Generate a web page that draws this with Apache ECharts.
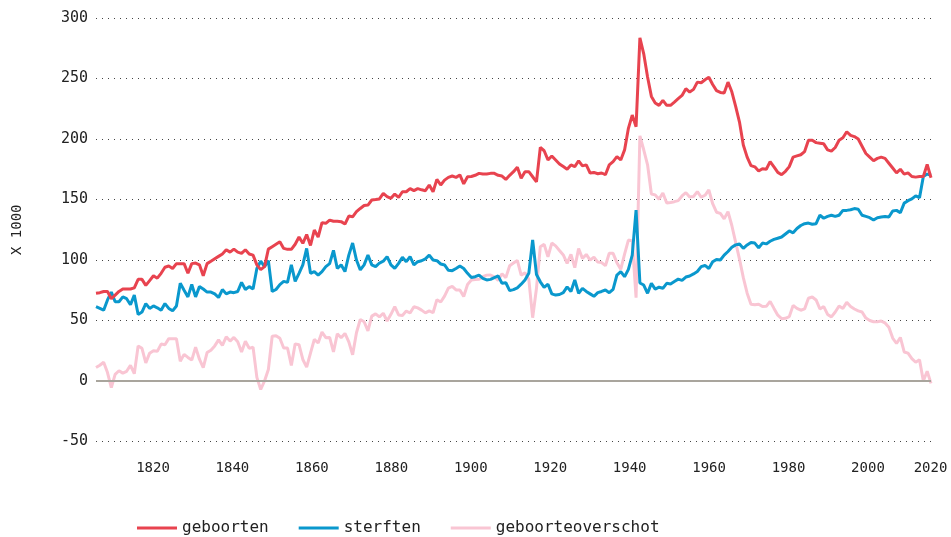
<!DOCTYPE html>
<html>
<head>
<meta charset="utf-8">
<script src="https://cdn.jsdelivr.net/npm/echarts@6/dist/echarts.min.js"></script>
<style>
  html, body { margin: 0; padding: 0; background: #fff; }
  #chart { width: 951px; height: 537px; }
</style>
</head>
<body>
<div id="chart"></div>
<script>
// jaren 1804 t/m 2022
const jaren = []
for (let j = 1804; j <= 2022; j++) jaren.push(j)

// labels onder de x-as
const asJaren = [1820, 1840, 1860, 1880, 1900, 1920, 1940, 1960, 1980, 2000, 2020]

// levendgeborenen (x 1000)
const geboorten = [
  72.5, 73, 74, 74, 68, 71,
  74, 76, 76, 76, 77, 84, 84, 79, 83, 87,
  85, 89, 94, 95, 93, 97, 97, 97, 89, 97,
  97.5, 96, 87, 97, 99, 101, 103, 105, 108.5, 106.5,
  109, 106.5, 105.5, 108.5, 105, 104, 96, 92, 94.5, 109,
  111, 113, 115, 109.6, 108.8, 108.8, 113, 119, 113.8, 121,
  112, 124.8, 119, 130.8, 130.3, 133, 132, 132, 131.7, 129.7,
  136.3, 135.7, 139.9, 142.6, 145, 145.4, 149.6, 150, 150.5, 155,
  152.4, 151, 154.5, 151.8, 156.4, 156.4, 159, 157.3, 159, 158,
  157.3, 162, 156.4, 166.6, 162, 166, 168.3, 169.4, 168.3, 170.3,
  162.9, 168.8, 169, 170, 171.6, 171, 171, 171.6, 171.6, 170,
  169.4, 166.6, 170, 173, 176.6, 167.5, 173, 173, 168.8, 164.6,
  193, 190.3, 182.7, 186, 182.7, 179.4, 177.2, 175, 178.6, 177.2,
  182, 177.8, 178.6, 171.9, 172.4, 171.3, 171.9, 170.5, 178.6, 181.3,
  185.4, 182.7, 191, 208.8, 219.8, 210.1, 283.6, 270.4, 251.2, 235.2,
  229.8, 227.8, 232, 227.8, 227.8, 230.5, 233.3, 236, 241.6, 238.8,
  241, 247, 246.5, 249, 251, 245, 240, 238.5, 238, 247,
  239, 227, 214, 195, 185, 178, 177, 173.5, 175.5, 175,
  181.3, 177, 172.4, 170.5, 173.3, 177.2, 185, 186, 187, 189.6,
  198.9, 198.9, 197, 196.5, 196, 191, 190, 193, 199, 201,
  206, 203, 202, 200, 194, 188, 185, 182, 184, 185,
  184, 180, 176, 172, 175, 171, 172, 169, 168.5, 169,
  169, 179, 168
]

// overledenen (x 1000)
const sterften = [
  61.4, 60, 58.5, 67, 73.5, 65.5,
  65.5, 69.5, 68, 63, 71, 55, 57, 64, 60, 62,
  60.5, 58.5, 64, 60, 58, 62, 80.7, 75, 69.5, 79.7,
  69.5, 78, 76, 73.5, 73.5, 72, 69, 75.6, 72, 73.5,
  73, 74, 81.5, 75.6, 78, 76, 93, 99, 94.5, 99.5,
  74, 75.6, 79.7, 82.3, 81.5, 96, 82.3, 89, 96, 109.6,
  89, 90.4, 87.6, 90.4, 94.5, 97, 108, 93, 96, 90.4,
  104, 114, 100, 91.8, 96, 104, 96, 94.5, 97.5, 99,
  102.8, 95.9, 93, 97.2, 102.2, 98.6, 102.8, 95.9, 98.6, 99.4,
  101, 104, 100, 99.4, 96.7, 95.9, 91.5, 91.2, 93, 95,
  93, 89, 85.6, 86.2, 87.6, 84.8, 83.5, 84, 85.5, 86.8,
  80.7, 81.2, 74.7, 75.5, 77, 80, 83.5, 89, 116.5, 88,
  82, 77.4, 80, 72, 71, 71.5, 73, 77.8, 74, 83.5,
  72.5, 76.6, 74, 72, 70, 73, 74, 75.2, 73, 75.8,
  87.6, 90.4, 86.2, 92.3, 104, 141.3, 81, 79.3, 72.5, 80.7,
  76, 77.5, 76.6, 80.7, 80.2, 82.3, 84.2, 83.1, 85.9, 86.8,
  88.5, 90.5, 94.5, 95.5, 93, 98.5, 100.5, 100, 104, 107,
  110.5, 112.5, 113.3, 109.6, 112.4, 114.5, 114, 110, 114, 113.3,
  115.5, 117, 118, 119, 121.5, 124, 122.5, 126, 128.5, 130,
  130.5, 129.5, 130, 137, 134.5, 136, 137, 136, 137, 141,
  141, 141.5, 142.5, 142, 137, 136, 135, 133, 135, 135.5,
  136, 135.5, 140.5, 141, 139, 147, 149, 150.5, 153, 151.5,
  169, 171, 170
]

// geboorteoverschot (x 1000)
const overschot = [
  11.1, 13, 15.5, 7, -5.5, 5.5,
  8.5, 6.5, 8, 13, 6, 29, 27, 15, 23, 25,
  24.5, 30.5, 30, 35, 35, 35, 16.3, 22, 19.5, 17.3,
  28, 18, 11, 23.5, 25.5, 29, 34, 29.4, 36.5, 33,
  36, 32.5, 24, 32.9, 27, 28, 3, -7, 0, 9.5,
  37, 37.4, 35.3, 27.3, 27.3, 12.8, 30.7, 30, 17.8, 11.4,
  23, 34.4, 31.4, 40.4, 35.8, 36, 24, 39, 35.7, 39.3,
  32.3, 21.7, 39.9, 50.8, 49, 41.4, 53.6, 55.5, 53, 56,
  49.6, 55.1, 61.5, 54.6, 54.2, 57.8, 56.2, 61.4, 60.4, 58.6,
  56.3, 58, 56.4, 67.2, 65.3, 70.1, 76.8, 78.2, 75.3, 75.3,
  69.9, 79.8, 83.4, 83.8, 84, 86.2, 87.5, 87.6, 86.1, 83.2,
  88.7, 85.4, 95.3, 97.5, 99.6, 87.5, 89.5, 84, 52.3, 76.6,
  111, 112.9, 102.7, 114, 111.7, 107.9, 104.2, 97.2, 104.6, 93.7,
  109.5, 101.2, 104.6, 99.9, 102.4, 98.3, 97.9, 95.3, 105.6, 105.5,
  97.8, 92.3, 104.8, 116.5, 115.8, 68.8, 202.6, 191.1, 178.7, 154.5,
  153.8, 150.3, 155.4, 147.1, 147.6, 148.2, 149.1, 152.9, 155.7, 152,
  152.5, 156.5, 152, 153.5, 158, 146.5, 139.5, 138.5, 134, 140,
  128.5, 114.5, 100.7, 85.4, 72.6, 63.5, 63, 63.5, 61.5, 61.7,
  65.8, 60, 54.4, 51.5, 51.8, 53.2, 62.5, 60, 58.5, 59.6,
  68.4, 69.4, 67, 59.5, 61.5, 55, 53, 57, 62, 60,
  65, 61.5, 59.5, 58, 57, 52, 50, 49, 49, 49.5,
  48, 44.5, 35.5, 31, 36, 24, 23, 18.5, 15.5, 17.5,
  0, 8, -2
]

const kleuren = ['#e8434f', '#0a98cd', '#f9c5d3']
const font = 'DejaVu Sans Mono'

const chart = echarts.init(document.getElementById('chart'))

chart.setOption({
  animation: false,
  color: kleuren,
  textStyle: { fontFamily: font },
  grid: [
    { left: 96, right: 20, top: 18, bottom: 95.5 },
    // alleen voor de jaarlabels
    { left: 153, right: 3.6, top: 18, bottom: 95.5 }
  ],
  legend: {
    bottom: -4,
    left: 132,
    icon: 'rect',
    itemWidth: 40,
    itemHeight: 3,
    itemGap: 30,
    textStyle: { fontFamily: font, fontSize: 16, color: '#222' },
    data: ['geboorten', 'sterften', 'geboorteoverschot']
  },
  xAxis: [
    {
      type: 'category',
      data: jaren,
      boundaryGap: false,
      axisLine: { show: false },
      axisTick: { show: false },
      splitLine: { show: false },
      axisLabel: { show: false }
    },
    {
      gridIndex: 1,
      type: 'value',
      min: asJaren[0],
      max: asJaren[asJaren.length - 1],
      interval: 20,
      axisLine: { show: false },
      axisTick: { show: false },
      splitLine: { show: false },
      axisLabel: {
        margin: 20,
        fontFamily: font,
        fontSize: 14,
        color: '#222',
        alignMaxLabel: 'right',
        formatter: v => String(v)
      }
    }
  ],
  yAxis: [
    {
      type: 'value',
      min: -50,
      max: 300,
      interval: 50,
      name: 'X 1000',
      nameLocation: 'middle',
      nameGap: 72,
      nameTextStyle: { fontFamily: font, fontSize: 14, color: '#222' },
      axisLine: { show: false },
      axisTick: { show: false },
      axisLabel: { margin: 8, fontFamily: font, fontSize: 15, color: '#222' },
      splitLine: {
        lineStyle: { color: '#444', width: 1, type: [1, 5] }
      }
    },
    { gridIndex: 1, type: 'value', min: 0, max: 1, show: false }
  ],
  series: [
    {
      name: 'geboorteoverschot',
      type: 'line',
      data: overschot,
      z: 1,
      symbol: 'none',
      lineStyle: { width: 3, color: kleuren[2] },
      itemStyle: { color: kleuren[2] },
      markLine: {
        silent: true,
        symbol: 'none',
        label: { show: false },
        lineStyle: { color: '#a9a59d', width: 2, type: 'solid' },
        data: [{ yAxis: 0 }]
      }
    },
    {
      name: 'sterften',
      type: 'line',
      data: sterften,
      z: 2,
      symbol: 'none',
      lineStyle: { width: 3, color: kleuren[1] },
      itemStyle: { color: kleuren[1] }
    },
    {
      name: 'geboorten',
      type: 'line',
      data: geboorten,
      z: 3,
      symbol: 'none',
      lineStyle: { width: 3, color: kleuren[0] },
      itemStyle: { color: kleuren[0] }
    }
  ]
})
</script>
</body>
</html>
